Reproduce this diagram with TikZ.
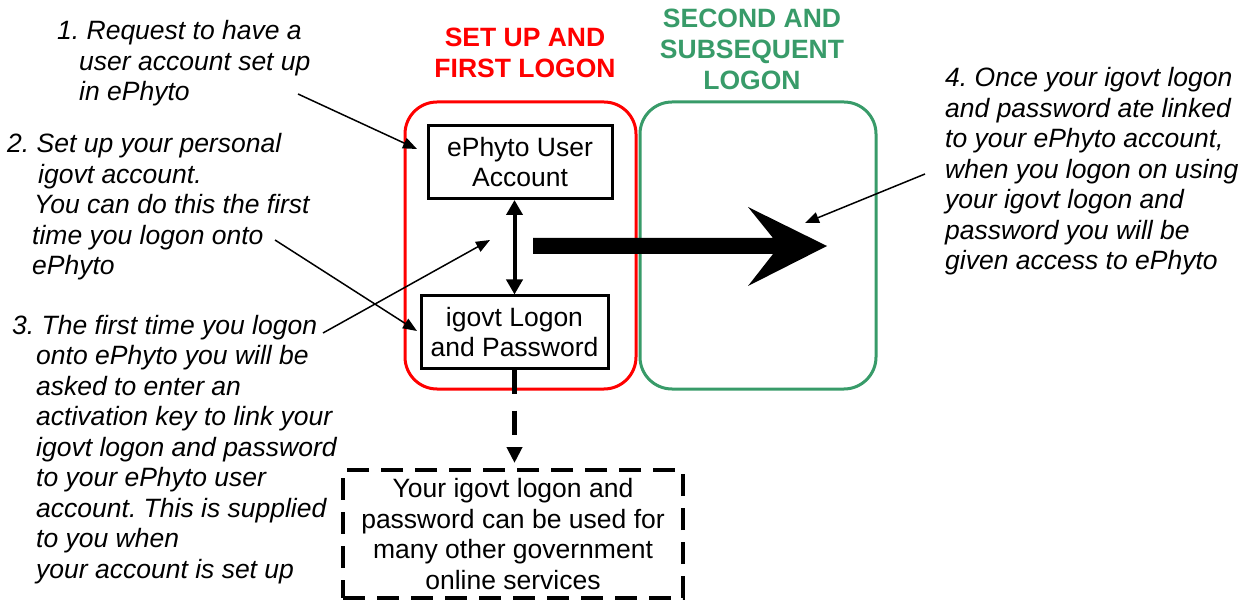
\documentclass[tikz,border=0pt]{standalone}
\usepackage{fontspec}
\setmainfont{Liberation Sans}
\usetikzlibrary{arrows.meta}
\definecolor{boxred}{RGB}{255,0,0}
\definecolor{boxgreen}{RGB}{56,155,105}
\frenchspacing
\begin{document}
\begin{tikzpicture}[x=1pt,y=-1pt,
  every node/.style={inner sep=0pt, font=\fontsize{26.5}{30.5}\selectfont},
  note/.style={align=left, anchor=base west, font=\fontsize{26.5}{30.5}\selectfont\itshape},
  title/.style={align=center, anchor=base, font=\fontsize{26.5}{31}\selectfont\bfseries},
  stepbox/.style={draw, line width=3pt, align=center},
  group/.style={draw, line width=3pt, rounded corners=32pt},
  callout/.style={line width=1.5pt, -{Triangle[length=14pt,width=11pt]}},
]
\useasboundingbox (0,0) rectangle (1247,601);
% group boxes
\node[group, draw=boxred, minimum width=231pt, minimum height=287pt] (setup) at (520.5,245.5) {};
\node[group, draw=boxgreen, minimum width=236pt, minimum height=287pt] (second) at (758,245.5) {};
% titles (anchored at the baseline of their last line)
\node[title, text=boxred] (t1) at (525,78) {SET UP AND\\FIRST LOGON};
\node[title, text=boxgreen] (t2) at (752,90) {SECOND AND\\SUBSEQUENT\\LOGON};
% step boxes
\node[stepbox, minimum width=184pt, minimum height=73pt] (ephyto) at (520,162) {ePhyto User\\Account};
\node[stepbox, minimum width=187pt, minimum height=72pt] (igovt) at (514.5,332) {igovt Logon\\and Password};
\node[draw, line width=4pt, dash pattern=on 22pt off 12pt, align=center, minimum width=340pt, minimum height=128pt] (dbox) at (513,534) {Your igovt logon and\\password can be used for\\many other government\\online services};
% notes (anchored at the baseline of their last line)
\node[note] (n1) at (57,101) {1. Request to have a\\\hspace*{22pt}user account set up\\\hspace*{22pt}in ePhyto};
\node[note] (n2) at (7,275) {2. Set up your personal\\\hspace*{31pt}igovt account.\\\hspace*{27pt}You can do this the first\\\hspace*{25pt}time you logon onto\\\hspace*{25pt}ePhyto};
\node[note] (n3) at (12,578) {3. The first time you logon\\\hspace*{24pt}onto ePhyto you will be\\\hspace*{24pt}asked to enter an\\\hspace*{24pt}activation key to link your\\\hspace*{24pt}igovt logon and password\\\hspace*{24pt}to your ePhyto user\\\hspace*{24pt}account. This is supplied\\\hspace*{24pt}to you when\\\hspace*{24pt}your account is set up};
\node[note] (n4) at (945,270) {4. Once your igovt logon\\and password ate linked\\to your ePhyto account,\\when you logon on using\\your igovt logon and\\password you will be\\given access to ePhyto};
% callout ends
\coordinate (c1s) at (298,94);  \coordinate (c1e) at (417,149);
\coordinate (c2s) at (275,240); \coordinate (c2e) at (417,331);
\coordinate (c3s) at (323,333); \coordinate (c3e) at (490,240);
\coordinate (c4s) at (925,174); \coordinate (c4e) at (805,223);
\draw[callout] (c1s) -- (c1e);
\draw[callout] (c2s) -- (c2e);
\draw[callout] (c3s) -- (c3e);
\draw[callout] (c4s) -- (c4e);
% double arrow
\draw[line width=4pt, {Triangle[length=15pt,width=16pt]}-{Triangle[length=15pt,width=16pt]}] (igovt.north |- ephyto.south) -- (igovt.north);
% dashed arrow down
\draw[line width=5pt, dash pattern=on 24pt off 17pt, -{Triangle[length=16pt,width=15pt]}, shorten >=5pt] (igovt.south) -- (igovt.south |- dbox.north);
% big arrow
\fill (533,238) -- (773,238) -- (748,207) -- (827,246) -- (748,286) -- (773,254) -- (533,254) -- cycle;
\end{tikzpicture}
\end{document}
